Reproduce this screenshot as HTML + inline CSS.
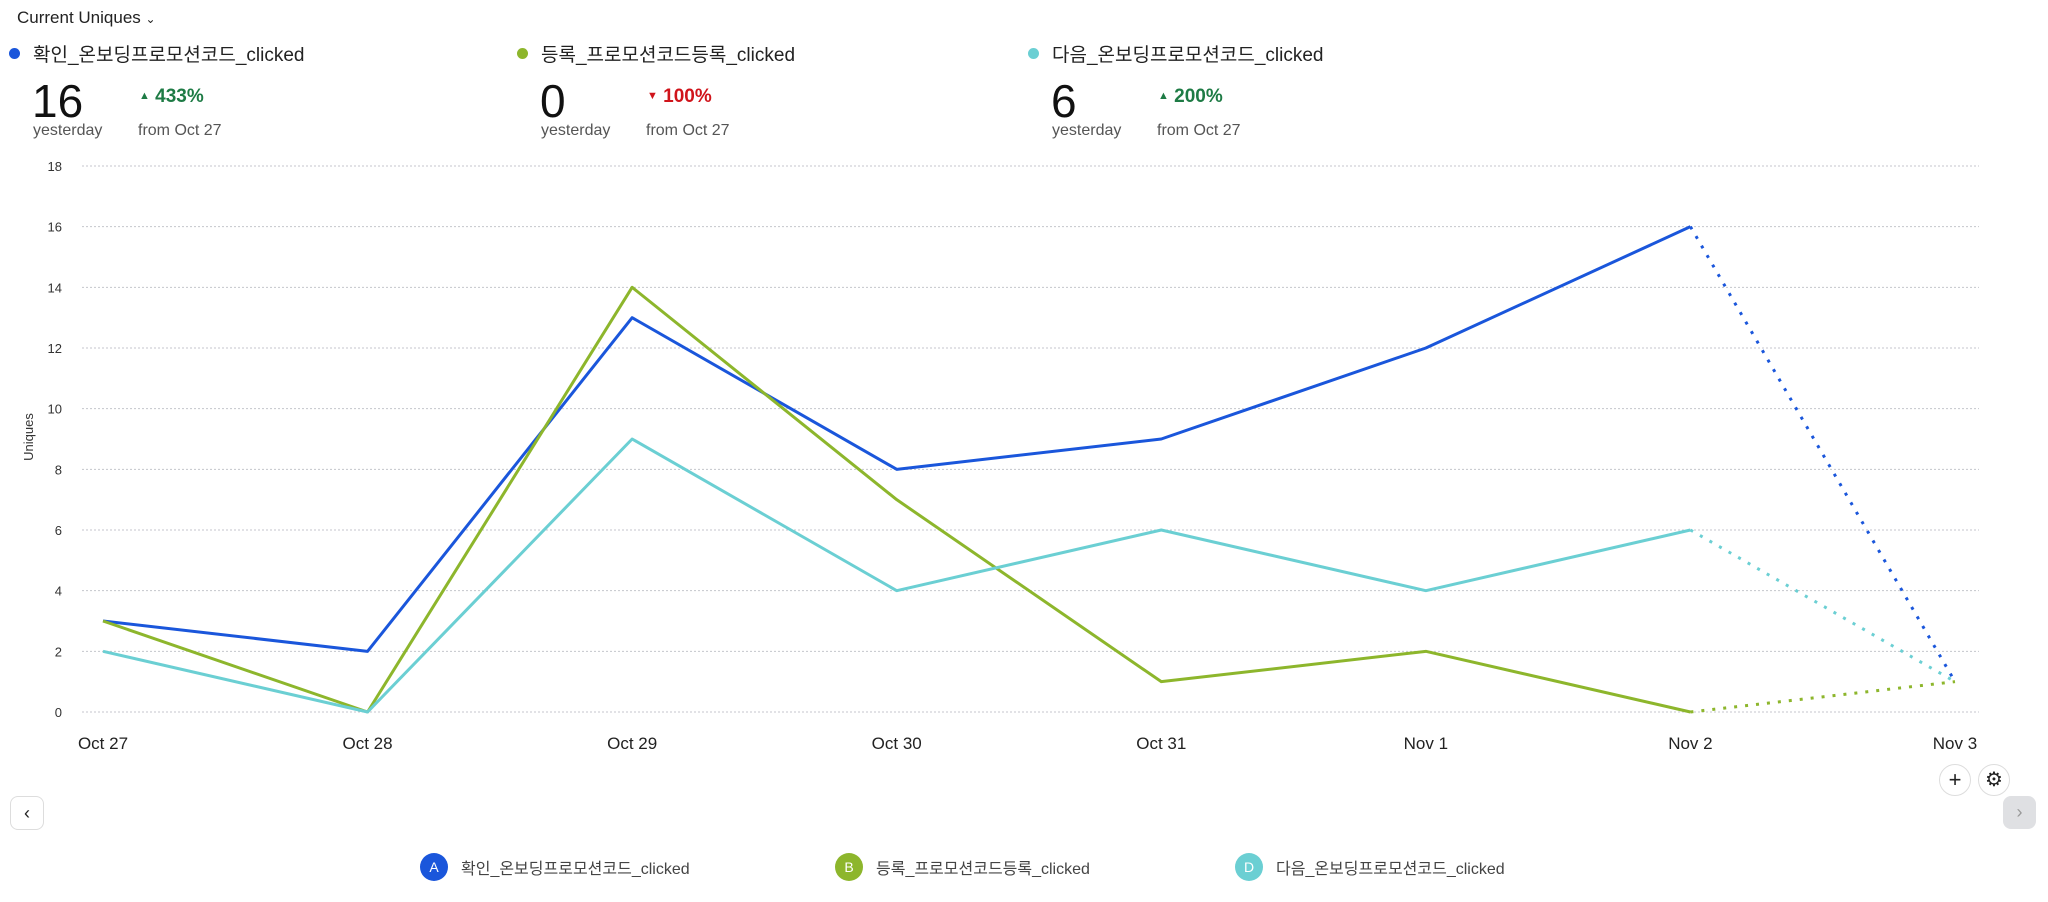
<!DOCTYPE html>
<html><head><meta charset="utf-8"><style>
body{margin:0;width:2048px;height:902px;background:#fff;font-family:"Liberation Sans","Noto Sans CJK KR",sans-serif;color:#222;position:relative;overflow:hidden}
.a{position:absolute;white-space:nowrap}
</style></head><body>
<div class="a" style="left:17px;top:8px;font-size:17px">Current Uniques <span style="font-size:12px">&#8964;</span></div>
<div id="hdr"></div>
<svg id="chart" width="2048" height="902" style="position:absolute;left:0;top:0"></svg>
<div class="a" style="left:1939px;top:764px;width:30px;height:30px;border:1px solid #ddd;border-radius:50%;text-align:center;line-height:30px;font-size:22px">+</div>
<div class="a" style="left:1978px;top:764px;width:30px;height:30px;border:1px solid #ddd;border-radius:50%;text-align:center;line-height:30px;font-size:20px">&#9881;</div>
<div class="a" style="left:10px;top:796px;width:32px;height:32px;border:1px solid #ddd;border-radius:8px;text-align:center;line-height:32px;font-size:18px">&#8249;</div>
<div class="a" style="left:2003px;top:796px;width:33px;height:33px;background:#dfe0e3;border-radius:8px;text-align:center;line-height:33px;font-size:18px;color:#999">&#8250;</div>
<div id="leg"></div>
<script>
const categories=["Oct 27","Oct 28","Oct 29","Oct 30","Oct 31","Nov 1","Nov 2","Nov 3"];
const seriesA=[3,2,13,8,9,12,16,1];
const seriesB=[3,0,14,7,1,2,0,1];
const seriesD=[2,0,9,4,6,4,6,1];
const yTicks=[0,2,4,6,8,10,12,14,16,18];
const names=["확인_온보딩프로모션코드_clicked","등록_프로모션코드등록_clicked","다음_온보딩프로모션코드_clicked"];
const letters=["A","B","D"];
const colors=["#1a56db","#8db62c","#6bcfd3"];
const bigVals=["16","0","6"];
const pcts=["433%","100%","200%"];
const ups=[true,false,true];
const NS="http://www.w3.org/2000/svg";
const svg=document.getElementById('chart');
const x0=103,x1=1955,y0=712,y1=166;
const xs=i=>x0+(x1-x0)*i/(categories.length-1);
const ys=v=>y0-(y0-y1)*v/18;
function mk(t,a){const e=document.createElementNS(NS,t);for(const k in a)e.setAttribute(k,a[k]);svg.appendChild(e);return e;}
yTicks.forEach(t=>{
 const l=mk('line',{x1:82,x2:1979,y1:ys(t),y2:ys(t),stroke:'#c4c6cc','stroke-width':1,'stroke-dasharray':'2 2'});
 
 
 const tx=mk('text',{x:62,y:ys(t)+5,'text-anchor':'end','font-size':13,fill:'#333'});tx.textContent=t;
 
 
});
const yt=mk('text',{x:0,y:0,transform:'translate(33,437) rotate(-90)','text-anchor':'middle','font-size':13,fill:'#333'});yt.textContent='Uniques';


categories.forEach((c,i)=>{
 const tx=mk('text',{x:xs(i),y:749,'text-anchor':'middle','font-size':17,fill:'#222'});tx.textContent=c;
 
 
});
[seriesA,seriesB,seriesD].forEach((s,k)=>{
 const n=s.length;
 const solid=s.slice(0,n-1).map((v,i)=>xs(i)+','+ys(v)).join(' ');
 const p=mk('polyline',{points:solid,fill:'none',stroke:colors[k],'stroke-width':3,'stroke-linejoin':'round'});
 
 
 const d=mk('line',{x1:xs(n-2),y1:ys(s[n-2]),x2:xs(n-1),y2:ys(s[n-1]),stroke:colors[k],'stroke-width':3,'stroke-dasharray':'3 8'});
 
 
});
const hdr=document.getElementById('hdr');
const hx=[14,522,1033];
const leg=document.getElementById('leg');
const lx=[420,835,1235];
names.forEach((nm,k)=>{
 const b=hx[k];
 const d=document.createElement('div');d.className='a';
 
 
 d.style.left=(b-5)+'px';d.style.top='40px';
 d.innerHTML='<span style="position:absolute;left:0;top:8px;width:11px;height:11px;border-radius:50%;background:'+colors[k]+'"></span>'+
 '<span style="position:absolute;left:24px;top:0;font-size:19px">'+nm+'</span>'+
 '<span style="position:absolute;left:23px;top:34px;font-size:46px;color:#111">'+bigVals[k]+'</span>'+
 '<span style="position:absolute;left:130px;top:46px;font-size:19px;font-weight:bold;color:'+(ups[k]?'#1e7b45':'#d0141b')+'"><span style="font-size:11px;vertical-align:3px">'+(ups[k]?'&#9650;':'&#9660;')+'</span> '+pcts[k]+'</span>'+
 '<span style="position:absolute;left:24px;top:82px;font-size:16px;color:#555">yesterday</span>'+
 '<span style="position:absolute;left:129px;top:82px;font-size:16px;color:#555">from Oct 27</span>';
 hdr.appendChild(d);
 const e=document.createElement('div');e.className='a';
 
 
 e.style.left=lx[k]+'px';e.style.top='853px';
 e.innerHTML='<span style="display:inline-block;width:28px;height:28px;border-radius:50%;background:'+colors[k]+';color:#fff;text-align:center;line-height:28px;font-size:14px;vertical-align:middle">'+letters[k]+'</span><span style="margin-left:13px;font-size:16px;color:#444;vertical-align:middle">'+nm+'</span>';
 leg.appendChild(e);
});
</script>
</body></html>
